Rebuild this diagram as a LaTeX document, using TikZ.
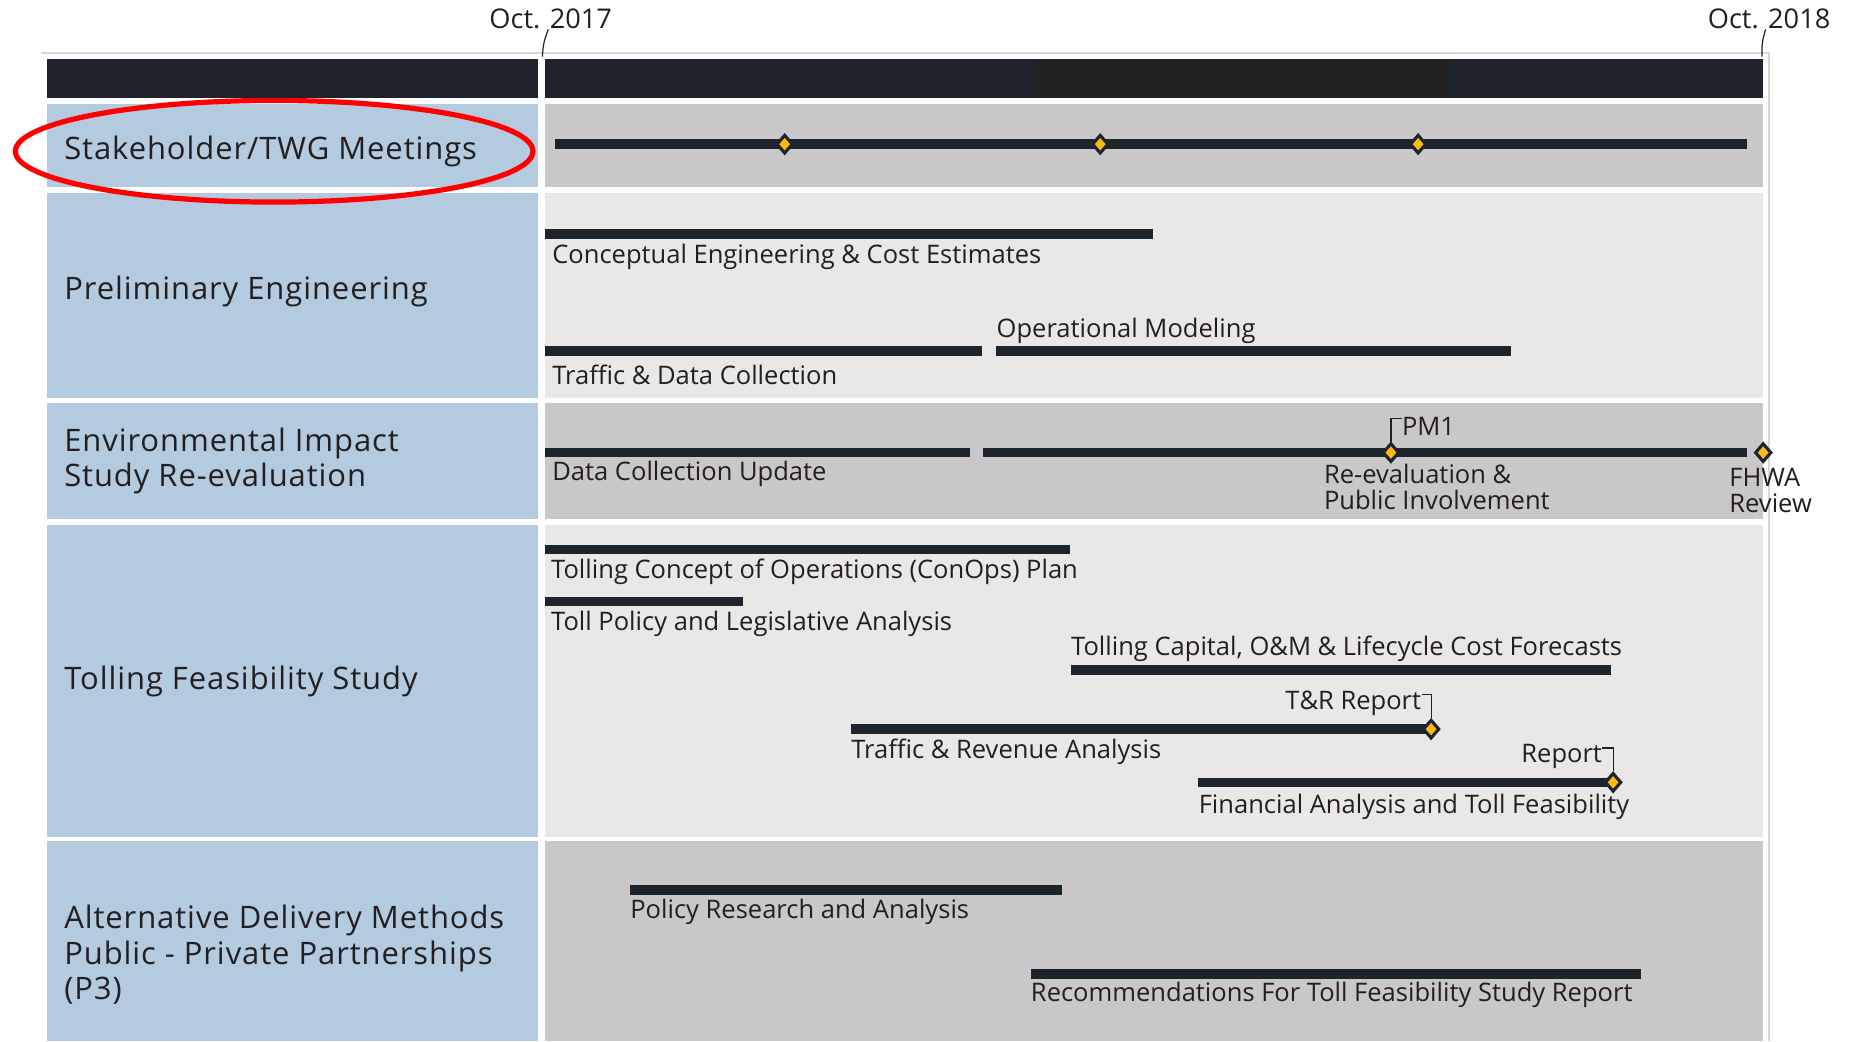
\documentclass[tikz,border=0pt]{standalone}
\usepackage{fontspec}
\setmainfont{Open Sans}
\newfontfamily\rowfont[LetterSpace=3]{Open Sans}
\usetikzlibrary{shapes.geometric}
\definecolor{hdrdark}{HTML}{1F242C}
\definecolor{hdrmid}{HTML}{222222}
\definecolor{rowblue}{HTML}{B3CADF}
\definecolor{rowgray}{HTML}{C9C7C8}
\definecolor{rowlight}{HTML}{E9E8E6}
\definecolor{bardark}{HTML}{1E242B}
\definecolor{msgold}{HTML}{FDB813}
\definecolor{txt}{HTML}{231F20}
\definecolor{rulegray}{HTML}{D6D6D6}
\tikzset{
  taskbar/.style={line width=4pt, draw=bardark},
  milestone/.style={diamond, draw=bardark, fill=msgold, line width=1.3pt, inner sep=0pt, minimum width=7pt, minimum height=8pt},
  rowlabel/.style={anchor=west, align=left, inner sep=0pt, text=txt, font=\rowfont\fontsize{13.1}{15}\selectfont},
  barlabel/.style={anchor=west, align=left, inner sep=0pt, text=txt, font=\fontsize{10.8}{11.3}\selectfont},
  callout/.style={draw=txt, line width=0.5pt},
}
\begin{document}
\begin{tikzpicture}[x=0.5pt, y=-0.5pt]
\useasboundingbox (0,0) rectangle (1568,881);
% frame lines
\draw [rulegray, line width=0.8pt] (35,45) -- (1497,45) -- (1497,881);
% header
\fill [hdrdark] (40,50) rectangle (455,83);
\fill [hdrdark] (461,50) rectangle (1492,83);
\fill [hdrmid] (877,52) rectangle (1225,81);
% rows, left column
\fill [rowblue] (40,88) rectangle (455,158);
\fill [rowblue] (40,163) rectangle (455,337);
\fill [rowblue] (40,341) rectangle (455,439);
\fill [rowblue] (40,444) rectangle (455,708);
\fill [rowblue] (40,712) rectangle (455,881);
% rows, time area
\fill [rowgray] (461,88) rectangle (1492,158);
\fill [rowlight] (461,163) rectangle (1492,337);
\fill [rowgray] (461,341) rectangle (1492,439);
\fill [rowlight] (461,444) rectangle (1492,708);
\fill [rowgray] (461,712) rectangle (1492,881);

% dates
\node [barlabel, anchor=center, font=\fontsize{11.5}{12}\selectfont] (oct17) at (466,16) {Oct. 2017};
\node [barlabel, anchor=center, font=\fontsize{11.5}{12}\selectfont] (oct18) at (1497,16) {Oct. 2018};
\coordinate (t17) at (459,48);
\coordinate (t18) at (1491,48);
\draw [callout] (oct17.south) ++(-2,0) to[bend right=10] (t17);
\draw [callout] (oct18.south) ++(-3,0) to[bend right=10] (t18);

% row labels
\node [rowlabel] (stake) at (54,128) {Stakeholder/TWG Meetings};
\node [rowlabel] (prelim) at (54,247) {Preliminary Engineering};
\node [rowlabel] (envir) at (54,390) {Environmental Impact\\Study Re-evaluation};
\node [rowlabel] (toll) at (54,577) {Tolling Feasibility Study};
\node [rowlabel] (altdel) at (54,808) {Alternative Delivery Methods\\Public - Private Partnerships\\(P3)};

% highlight
\draw [red, line width=2.2pt] (232,128) ellipse (219 and 43);

% stakeholder meetings
\draw [taskbar] (470,122) -- (1478,122);
\node [milestone] (mtg1) at (664,122) {};
\node [milestone] (mtg2) at (931,122) {};
\node [milestone] (mtg3) at (1200,122) {};

% preliminary engineering
\draw [taskbar] (461,198) -- (976,198);
\node [barlabel] (concept) at (467,217) {Conceptual Engineering \& Cost Estimates};
\draw [taskbar] (461,297) -- (831,297);
\node [barlabel] (traffic) at (467,317) {Traffic \& Data Collection};
\draw [taskbar] (843,297) -- (1279,297);
\node [barlabel] (opmod) at (843,280) {Operational Modeling};

% environmental re-evaluation
\draw [taskbar] (461,383) -- (821,383);
\node [barlabel] (datacol) at (467,401) {Data Collection Update};
\draw [taskbar] (832,383) -- (1478,383);
\node [milestone] (pm1d) at (1177,383) {};
\node [milestone] (fhwad) at (1492,383) {};
\node [barlabel] (pm1) at (1186,361) {PM1};
\coordinate (pm1c) at (1177,354);
\draw [callout] (pm1d.north) -- (pm1c) -- (pm1c -| pm1.west);
\node [barlabel] (reeval) at (1120,412) {Re-evaluation \&\\Public Involvement};
\node [barlabel] (fhwa) at (1463,415) {FHWA\\Review};

% tolling feasibility
\draw [taskbar] (461,465) -- (905,465);
\node [barlabel] (conops) at (466,484) {Tolling Concept of Operations (ConOps) Plan};
\draw [taskbar] (461,509) -- (629,509);
\node [barlabel] (policy) at (466,528) {Toll Policy and Legislative Analysis};
\draw [taskbar] (906,567) -- (1363,567);
\node [barlabel] (capital) at (906,549) {Tolling Capital, O\&M \& Lifecycle Cost Forecasts};
\draw [taskbar] (720,617) -- (1211,617);
\node [milestone] (trd) at (1211,617) {};
\node [barlabel, anchor=east] (trrep) at (1203,595) {T\&R Report};
\coordinate (trc) at (1211,588);
\draw [callout] (trrep.east |- trc) -- (trc) -- (trd.north);
\node [barlabel] (trev) at (720,636) {Traffic \& Revenue Analysis};
\draw [taskbar] (1014,662) -- (1365,662);
\node [milestone] (find) at (1365,662) {};
\node [barlabel, anchor=east] (finrep) at (1356,640) {Report};
\coordinate (finc) at (1365,633);
\draw [callout] (finrep.east |- finc) -- (finc) -- (find.north);
\node [barlabel] (finan) at (1014,683) {Financial Analysis and Toll Feasibility};

% alternative delivery
\draw [taskbar] (533,753) -- (899,753);
\node [barlabel] (polres) at (533,772) {Policy Research and Analysis};
\draw [taskbar] (872,824) -- (1389,824);
\node [barlabel] (recom) at (872,842) {Recommendations For Toll Feasibility Study Report};
\end{tikzpicture}
\end{document}
